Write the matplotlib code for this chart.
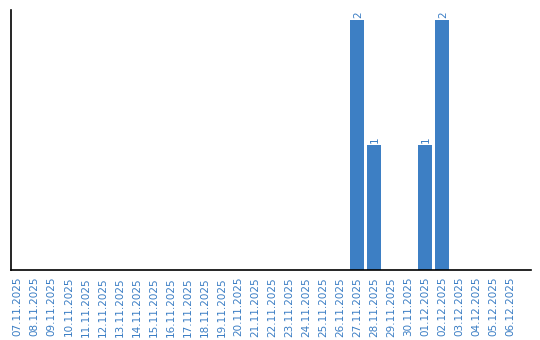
import matplotlib
matplotlib.use("Agg")
import matplotlib.pyplot as plt
import numpy as np

dates = ["07.11.2025", "08.11.2025", "09.11.2025", "10.11.2025", "11.11.2025",
         "12.11.2025", "13.11.2025", "14.11.2025", "15.11.2025", "16.11.2025",
         "17.11.2025", "18.11.2025", "19.11.2025", "20.11.2025", "21.11.2025",
         "22.11.2025", "23.11.2025", "24.11.2025", "25.11.2025", "26.11.2025",
         "27.11.2025", "28.11.2025", "29.11.2025", "30.11.2025", "01.12.2025",
         "02.12.2025", "03.12.2025", "04.12.2025", "05.12.2025", "06.12.2025"]
values = [0, 0, 0, 0, 0, 0, 0, 0, 0, 0,
          0, 0, 0, 0, 0, 0, 0, 0, 0, 0,
          2, 1, 0, 0, 1, 2, 0, 0, 0, 0]

bar_color = "#3d7fc4"
text_color = "#3a7dc4"

fig = plt.figure(figsize=(5.4, 3.4), dpi=100)
ax = fig.add_axes([11/540, 1 - 270/340, 520/540, 260/340])
x = np.arange(len(dates))
bars = ax.bar(x, values, width=0.82, color=bar_color)
for xi, v in zip(x, values):
    if v > 0:
        ax.text(xi + 0.05, v + 0.015, str(v), rotation=90, ha="center", va="bottom",
                fontsize=7.5, color=text_color)
ax.set_xlim(-0.38, 30.22)
ax.set_ylim(0, 2.08)
ax.set_xticks(x)
ax.set_xticklabels(dates, rotation=90, fontsize=7.5, color=text_color)
ax.tick_params(axis="x", length=0, pad=5)
ax.set_yticks([])
ax.spines["top"].set_visible(False)
ax.spines["right"].set_visible(False)
ax.spines["left"].set_linewidth(1.2)
ax.spines["bottom"].set_linewidth(1.2)
fig.savefig("out.png", dpi=100)
